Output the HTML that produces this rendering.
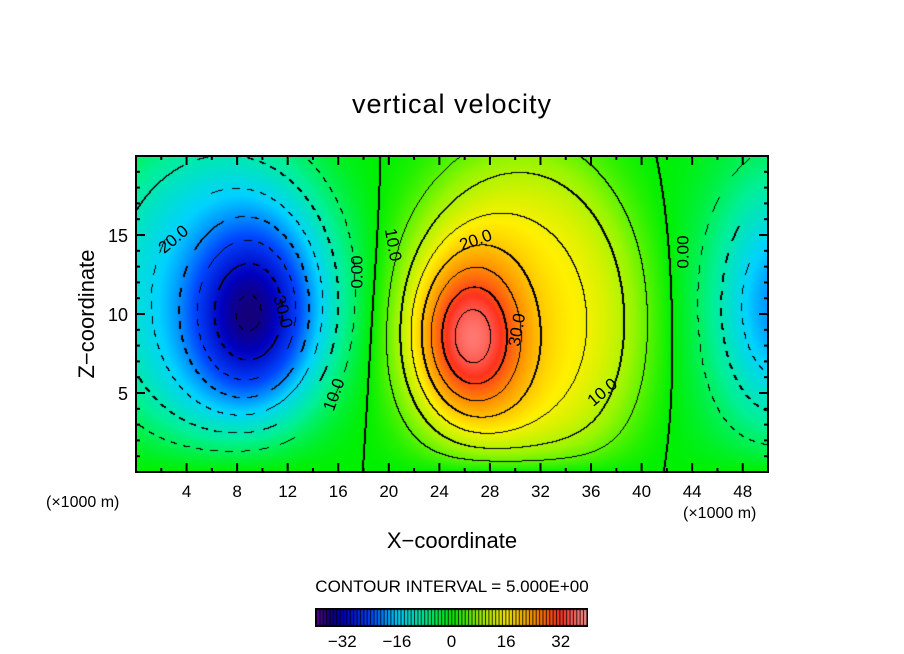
<!DOCTYPE html>
<html><head><meta charset="utf-8">
<style>
html,body{margin:0;padding:0;background:#fff;}
#wrap{position:relative;width:904px;height:654px;overflow:hidden;font-family:"Liberation Sans",sans-serif;}
#field{position:absolute;left:136px;top:156px;}
#cbar{position:absolute;left:315px;top:608px;}
svg{position:absolute;left:0;top:0;}
</style></head>
<body>
<div id="wrap">
<canvas id="field" width="632" height="316"></canvas>
<canvas id="cbar" width="273" height="19"></canvas>
<svg id="ov" width="904" height="654"></svg>
</div>
<script>
// field description (km units)
const blobX = [9, 6.5, 26.5, 30.5, 51];
const blobZ = [10, 11.5, 8.5, 9.5, 10.5];
const blobAmp = [-22, -14, 22, 16, -20];
const blobSX = [3.5, 7.5, 3, 7, 4];
const blobSZ = [4, 7.5, 3.5, 8, 6];
const blobPow = [1, 2, 1, 2, 1];
const xTicks = [4,8,12,16,20,24,28,32,36,40,44,48];
const zTicks = [5,10,15];
const cbTicks = [-32,-16,0,16,32];
const X0=136,X1=768,Y0=472,Y1=156,XMAX=50,ZMAX=20;
const sx=x=>X0+(x/XMAX)*(X1-X0);
const sz=z=>Y0-(z/ZMAX)*(Y0-Y1);
function val(x,z){let v=0;for(let i=0;i<blobX.length;i++){const dx=x-blobX[i],dz=z-blobZ[i];let r=dx*dx/(2*blobSX[i]*blobSX[i])+dz*dz/(2*blobSZ[i]*blobSZ[i]);r=Math.pow(r,blobPow[i]);v+=blobAmp[i]*Math.exp(-r);}return v*(1-Math.exp(-z/1.2));}
const stops=[[-40,90,0,150],[-36,20,0,120],[-32,0,0,190],[-24,0,70,255],[-16,0,210,255],[-8,0,240,150],[0,0,240,0],[8,150,245,0],[16,255,240,0],[24,255,150,0],[32,255,50,30],[40,255,150,150]];
function col(v){if(v<=stops[0][0])return stops[0].slice(1);for(let i=1;i<stops.length;i++){if(v<=stops[i][0]){const a=stops[i-1],b=stops[i],t=(v-a[0])/(b[0]-a[0]);return [a[1]+t*(b[1]-a[1]),a[2]+t*(b[2]-a[2]),a[3]+t*(b[3]-a[3])];}}return stops[stops.length-1].slice(1);}
(function(){
const c=document.getElementById('field'),g=c.getContext('2d'),W=c.width,H=c.height;
const img=g.createImageData(W,H),V=new Float32Array(W*H),M=new Uint8Array(W*H);
for(let py=0;py<H;py++)for(let px=0;px<W;px++)V[py*W+px]=val((px+0.5)/W*XMAX,(1-(py+0.5)/H)*ZMAX);
for(let py=0;py<H;py++)for(let px=0;px<W;px++){const v=V[py*W+px];const L=Math.floor(v/5);let lev=null;
if(px+1<W&&Math.floor(V[py*W+px+1]/5)!==L)lev=Math.max(L,Math.floor(V[py*W+px+1]/5))*5;
if(py+1<H&&Math.floor(V[(py+1)*W+px]/5)!==L)lev=Math.max(L,Math.floor(V[(py+1)*W+px]/5))*5;
if(lev!==null){if(lev<0&&((px+py)>>3)%2===1)continue;M[py*W+px]=1;if(lev%10===0&&px+1<W)M[py*W+px+1]=1;}}
for(let i=0;i<W*H;i++){const k=i*4;let [r,gg,b]=M[i]?[0,0,0]:col(V[i]);img.data[k]=r;img.data[k+1]=gg;img.data[k+2]=b;img.data[k+3]=255;}
g.putImageData(img,0,0);
const cb=document.getElementById('cbar'),h=cb.getContext('2d');
h.fillStyle='#000';h.fillRect(0,0,273,19);
for(let i=0;i<80;i++){const v=-40+i+0.5;const [r,gg,b]=col(v);h.fillStyle=`rgb(${r|0},${gg|0},${b|0})`;h.fillRect(2+i*3.38,2,2.4,15);}
})();
const NS='http://www.w3.org/2000/svg';const ov=document.getElementById('ov');
function el(t,a,txt){const e=document.createElementNS(NS,t);for(const k in a)e.setAttribute(k,a[k]);if(txt!==undefined)e.textContent=txt;ov.appendChild(e);return e;}
let e;
e=el('rect',{x:X0,y:Y1,width:X1-X0,height:Y0-Y1,fill:'none',stroke:'#000','stroke-width':2});


for(let x=2;x<XMAX;x+=2){const L=(x%4===0)?9:4;
e=el('line',{x1:sx(x),x2:sx(x),y1:Y0,y2:Y0-L,stroke:'#000','stroke-width':2});


e=el('line',{x1:sx(x),x2:sx(x),y1:Y1,y2:Y1+L,stroke:'#000','stroke-width':2});

}
for(let z=1;z<ZMAX;z++){const L=(z%5===0)?9:4;
e=el('line',{x1:X0,x2:X0+L,y1:sz(z),y2:sz(z),stroke:'#000','stroke-width':2});


e=el('line',{x1:X1,x2:X1-L,y1:sz(z),y2:sz(z),stroke:'#000','stroke-width':2});

}
xTicks.forEach(t=>{e=el('text',{x:sx(t),y:497,'font-size':17,'text-anchor':'middle'},String(t));

});
zTicks.forEach(t=>{e=el('text',{x:128,y:sz(t)+7,'font-size':18,'text-anchor':'end'},String(t));

});
const cbx=v=>315+(v+40)/80*273;
cbTicks.forEach(t=>{e=el('text',{x:cbx(t),y:647,'font-size':17,'text-anchor':'middle'},t<0?'\u2212'+(-t):String(t));

});
e=el('text',{x:452,y:113,'font-size':27,'text-anchor':'middle','letter-spacing':'1'},'vertical velocity');


e=el('text',{x:452,y:548,'font-size':22,'text-anchor':'middle'},'X\u2212coordinate');


e=el('text',{x:0,y:0,'font-size':22,'text-anchor':'middle',transform:'translate(94,314) rotate(-90)'},'Z\u2212coordinate');


e=el('text',{x:46,y:507,'font-size':16},'(\u00d71000 m)');


e=el('text',{x:683,y:518,'font-size':16},'(\u00d71000 m)');


e=el('text',{x:452,y:592,'font-size':17,'text-anchor':'middle'},'CONTOUR INTERVAL = 5.000E+00');


const labs=[['20.0',174,240,-40],['30.0',282,312,75],['10.0',335,395,-70],['0.00',358,272,-90],['10.0',392,245,80],['20.0',476,241,-20],['30.0',518,330,-80],['10.0',603,393,-40],['0.00',684,252,-90]];
labs.forEach(l=>{e=el('text',{x:0,y:0,'font-size':17,'text-anchor':'middle','dominant-baseline':'middle',transform:`translate(${l[1]},${l[2]}) rotate(${l[3]})`},l[0]);

});
</script>
</body></html>
